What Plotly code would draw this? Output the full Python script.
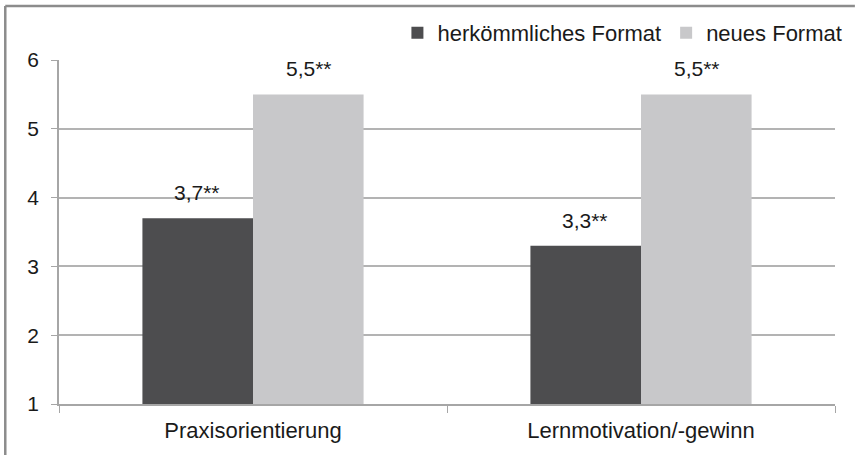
import plotly.graph_objects as go

categories = ["Praxisorientierung", "Lernmotivation/-gewinn"]
series_names = ["herkömmliches Format", "neues Format"]
values_old = [3.7, 3.3]
values_new = [5.5, 5.5]
labels_old = ["3,7**", "3,3**"]
labels_new = ["5,5**", "5,5**"]
y_ticks = [1, 2, 3, 4, 5, 6]
axis_min = 1

colors = ["#4d4d4f", "#c8c8ca"]
W, H = 859, 455
L, R, T, B = 59, 20, 60, 51
pw, ph = W - L - R, H - T - B

fig = go.Figure()
for name, vals, col in zip(series_names, [values_old, values_new], colors):
    fig.add_trace(go.Bar(x=categories, y=[v - axis_min for v in vals], base=axis_min, name=name,
                         marker=dict(color=col, line=dict(width=0)),
                         hovertemplate="%{x}: %{customdata}<extra></extra>", customdata=vals))

annotations = []
bar_px = pw / len(categories) * (1 - 0.43) / 2
for i, (vals, labs) in enumerate([(values_old, labels_old), (values_new, labels_new)]):
    for c, v, t in zip(categories, vals, labs):
        annotations.append(dict(x=c, y=v, xref="x", yref="y", text=t, showarrow=False,
                                xshift=(i - 0.5) * bar_px, yshift=12, yanchor="bottom",
                                font=dict(size=21, color="#1a1a1a")))

border_x = (5 - L) / pw
border_y = (T + ph - 6) / ph
border_right = (W - L) / pw
fig.update_layout(
    width=W, height=H, autosize=False,
    margin=dict(l=L, r=R, t=T, b=B),
    paper_bgcolor="white", plot_bgcolor="white",
    font=dict(family="Liberation Sans, Arial, sans-serif", size=21, color="#1a1a1a"),
    barmode="group", bargap=0.43, bargroupgap=0,
    showlegend=True,
    legend=dict(orientation="h", x=1.016, xanchor="right", y=(T + ph - 33) / ph, yanchor="middle",
                font=dict(size=22), bgcolor="rgba(0,0,0,0)", itemwidth=30, tracegroupgap=0),
    annotations=annotations,
    shapes=[
        dict(type="line", xref="paper", yref="paper", x0=border_x, x1=border_right, y0=border_y, y1=border_y,
             line=dict(color="#8c8c8c", width=2.5), layer="above"),
        dict(type="line", xref="paper", yref="paper", x0=border_x, x1=border_x, y0=-0.2, y1=border_y,
             line=dict(color="#8c8c8c", width=2.5), layer="above"),
    ],
)
fig.update_xaxes(type="category", showline=True, linecolor="#a6a6a6", linewidth=1.5,
                 ticks="outside", tickson="boundaries", ticklen=7, tickcolor="#a6a6a6",
                 showgrid=False, ticklabelstandoff=6, tickfont=dict(size=22))
fig.update_yaxes(range=[1, 6], tickvals=y_ticks, showline=True, linecolor="#a6a6a6", linewidth=1.5,
                 ticks="outside", ticklen=6, tickcolor="#a6a6a6", gridcolor="#b3b3b3", gridwidth=1.5,
                 zeroline=False, ticklabelstandoff=8, tickfont=dict(size=21))

fig.write_html("out.html", config={"displayModeBar": False},
               post_script="document.body.style.margin='0';")
